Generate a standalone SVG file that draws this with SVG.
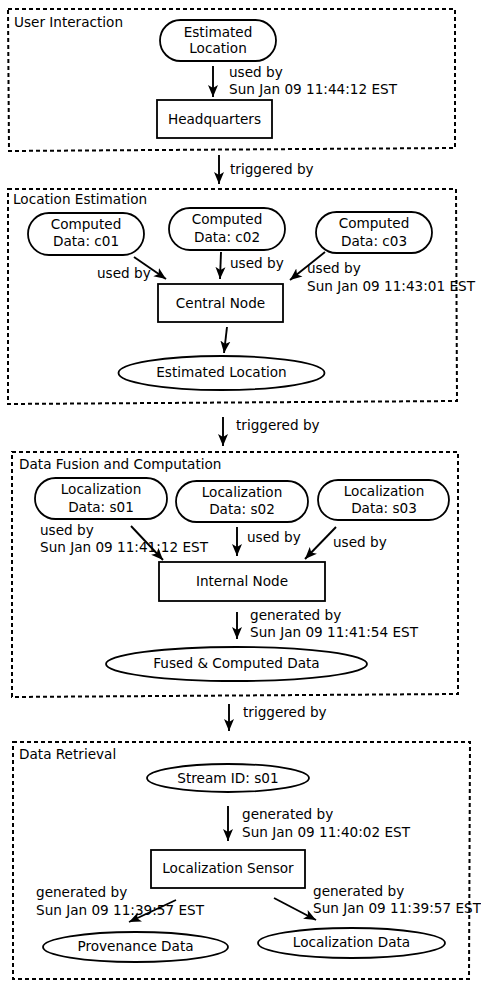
<svg xmlns="http://www.w3.org/2000/svg" width="481" height="981" viewBox="0 0 481 981">
<style>
text{font-family:"DejaVu Sans","Liberation Sans",sans-serif;font-size:13.6px;fill:#000}
.c{text-anchor:middle}
.grp{fill:none;stroke:#000;stroke-width:2;stroke-dasharray:4 3}
.node{fill:#fff;stroke:#000;stroke-width:1.8}
.edge{fill:none;stroke:#000;stroke-width:1.9;marker-end:url(#ah)}
</style>
<defs>
<marker id="ah" viewBox="-12 -6 12 12" refX="0" refY="0" markerWidth="12" markerHeight="12" markerUnits="userSpaceOnUse" orient="auto">
<path d="M0,0 L-12,-5 L-9,0 L-12,5 Z" fill="#000"/>
</marker>
</defs>
<rect width="481" height="981" fill="#fff"/>

<g id="group-user-interaction">
<polygon class="grp" points="8,9 455,9 455,148 9,151"/>
<text x="14" y="27">User Interaction</text>
</g>
<g id="group-location-estimation">
<polygon class="grp" points="8,189 456,189 457,401 8,404"/>
<text x="13" y="204">Location Estimation</text>
</g>
<g id="group-data-fusion">
<polygon class="grp" points="12,452 458,452 458,694 12,697"/>
<text x="19" y="469">Data Fusion and Computation</text>
</g>
<g id="group-data-retrieval">
<polygon class="grp" points="13,742 470,742 469,979 13,979"/>
<text x="19" y="759">Data Retrieval</text>
</g>

<g id="n-estimated-location-1">
<rect class="node" x="160" y="20" width="116" height="41" rx="20.5"/>
<text class="c" x="218" y="37">Estimated</text>
<text class="c" x="218" y="53">Location</text>
</g>
<g id="n-headquarters">
<rect class="node" x="157" y="100" width="115" height="38"/>
<text class="c" x="214.5" y="124">Headquarters</text>
</g>

<g id="n-c01">
<rect class="node" x="28" y="213" width="116" height="42" rx="21"/>
<text class="c" x="86" y="229">Computed</text>
<text class="c" x="86" y="246">Data: c01</text>
</g>
<g id="n-c02">
<rect class="node" x="169" y="208" width="116" height="42" rx="21"/>
<text class="c" x="227" y="224">Computed</text>
<text class="c" x="227" y="242">Data: c02</text>
</g>
<g id="n-c03">
<rect class="node" x="316" y="212" width="116" height="41" rx="20.5"/>
<text class="c" x="374" y="228">Computed</text>
<text class="c" x="374" y="246">Data: c03</text>
</g>
<g id="n-central">
<rect class="node" x="158" y="284" width="125" height="38"/>
<text class="c" x="220.5" y="308">Central Node</text>
</g>
<g id="n-estimated-location-2">
<ellipse class="node" cx="221.5" cy="373" rx="103" ry="17"/>
<text class="c" x="221.5" y="377">Estimated Location</text>
</g>

<g id="n-s01">
<rect class="node" x="35" y="478" width="132" height="41" rx="20.5"/>
<text class="c" x="101" y="494">Localization</text>
<text class="c" x="101" y="512">Data: s01</text>
</g>
<g id="n-s02">
<rect class="node" x="176" y="481" width="132" height="41" rx="20.5"/>
<text class="c" x="242" y="497">Localization</text>
<text class="c" x="242" y="514">Data: s02</text>
</g>
<g id="n-s03">
<rect class="node" x="318" y="480" width="131" height="40" rx="20"/>
<text class="c" x="384" y="496">Localization</text>
<text class="c" x="384" y="513">Data: s03</text>
</g>
<g id="n-internal">
<rect class="node" x="159" y="562" width="166" height="39"/>
<text class="c" x="242" y="586">Internal Node</text>
</g>
<g id="n-fused">
<ellipse class="node" cx="236.5" cy="664" rx="130.5" ry="17"/>
<text class="c" x="236.5" y="668">Fused &amp; Computed Data</text>
</g>

<g id="n-stream">
<ellipse class="node" cx="228" cy="778" rx="81" ry="14"/>
<text class="c" x="228" y="783">Stream ID: s01</text>
</g>
<g id="n-sensor">
<rect class="node" x="151" y="850" width="154" height="38"/>
<text class="c" x="228" y="873">Localization Sensor</text>
</g>
<g id="n-provenance">
<ellipse class="node" cx="135.5" cy="947" rx="92.5" ry="15"/>
<text class="c" x="135.5" y="951">Provenance Data</text>
</g>
<g id="n-localization-data">
<ellipse class="node" cx="351.5" cy="943" rx="93.5" ry="15"/>
<text class="c" x="351.5" y="947">Localization Data</text>
</g>

<g id="connectors">
<line class="edge" x1="213" y1="66" x2="213" y2="97"/>
<text x="229" y="77">used by</text>
<text x="229" y="94">Sun Jan 09 11:44:12 EST</text>

<line class="edge" x1="219" y1="155" x2="219" y2="184"/>
<text x="230" y="174">triggered by</text>

<line class="edge" x1="134" y1="257" x2="166" y2="279"/>
<text x="97" y="278">used by</text>
<line class="edge" x1="221" y1="252" x2="220" y2="279"/>
<text x="230" y="268">used by</text>
<line class="edge" x1="325" y1="252" x2="290" y2="280"/>
<text x="307" y="273">used by</text>
<text x="307" y="291">Sun Jan 09 11:43:01 EST</text>
<line class="edge" x1="227" y1="327" x2="224" y2="353"/>

<line class="edge" x1="223" y1="417" x2="223" y2="446"/>
<text x="236" y="430">triggered by</text>

<line class="edge" x1="131" y1="526" x2="163" y2="560"/>
<text x="40" y="535">used by</text>
<text x="40" y="552">Sun Jan 09 11:41:12 EST</text>
<line class="edge" x1="237" y1="527" x2="237" y2="556"/>
<text x="247" y="542">used by</text>
<line class="edge" x1="336" y1="527" x2="305" y2="559"/>
<text x="333" y="547">used by</text>
<line class="edge" x1="237" y1="612" x2="237" y2="639"/>
<text x="250" y="620">generated by</text>
<text x="250" y="637">Sun Jan 09 11:41:54 EST</text>

<line class="edge" x1="229" y1="704" x2="229" y2="731"/>
<text x="243" y="717">triggered by</text>

<line class="edge" x1="228" y1="806" x2="228" y2="841"/>
<text x="242" y="819">generated by</text>
<text x="242" y="837">Sun Jan 09 11:40:02 EST</text>

<text x="36" y="897">generated by</text>
<text x="36" y="915">Sun Jan 09 11:39:57 EST</text>
<line class="edge" x1="176" y1="900" x2="129" y2="922"/>
<text x="313" y="896">generated by</text>
<text x="313" y="913">Sun Jan 09 11:39:57 EST</text>
<line class="edge" x1="274" y1="898" x2="316" y2="920"/>
</g>
</svg>
